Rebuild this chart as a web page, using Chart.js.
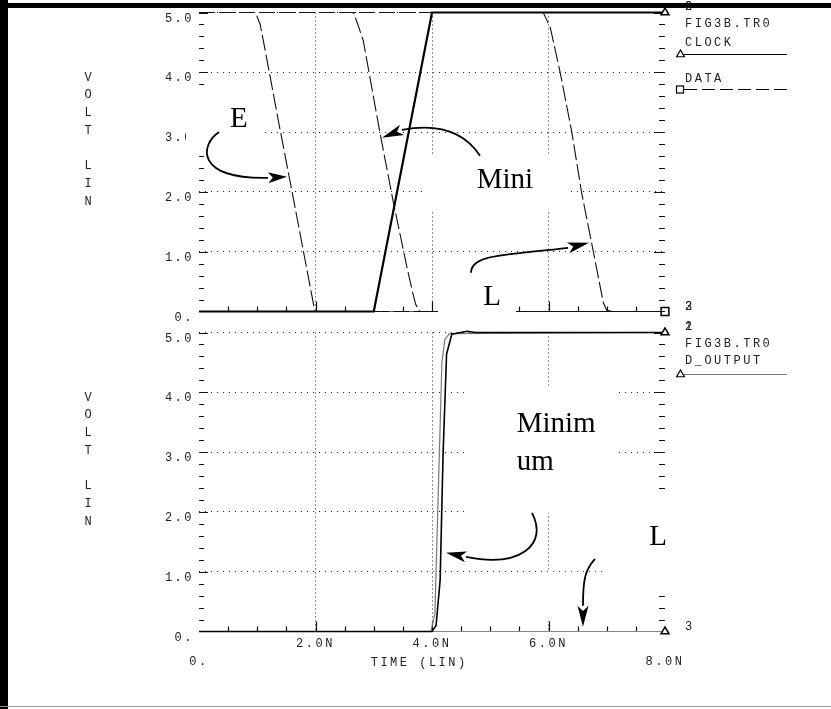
<!DOCTYPE html>
<html>
<head>
<meta charset="utf-8">
<script src="https://cdn.jsdelivr.net/npm/chart.js@4.4.0/dist/chart.umd.min.js"></script>
<style>
  html, body { margin: 0; padding: 0; background: #fff; }
  #page { position: relative; width: 831px; height: 709px; overflow: hidden; background: #fff; }
  canvas { position: absolute; left: 0; top: 0; }
  .bar-left { position: absolute; left: 0; top: 0; width: 8px; height: 709px; background: #000; }
  .bar-top { position: absolute; left: 0; top: 3px; width: 831px; height: 5px; background: #000; }
  .bar-bottom { position: absolute; left: 0; top: 706px; width: 831px; height: 1px; background: #999; }
</style>
</head>
<body>
<div id="page">
  <canvas id="topChart" width="831" height="709"></canvas>
  <canvas id="bottomChart" width="831" height="709"></canvas>
  <div class="bar-left"></div>
  <div class="bar-top"></div>
  <div class="bar-bottom"></div>
</div>
<script>
// ===== Data (time in ns, voltage in V) =====
const clockTime = [0, 3.0, 4.0, 8.0];
const clockVolt = [0, 0, 5, 5];

// DATA: early, minimum and late transitions
const dataEarlyTime = [0, 0.97, 1.05, 1.12, 1.39, 1.61, 1.99, 8.0];
const dataEarlyVolt = [5, 5, 4.8, 4.45, 3.05, 1.94, 0, 0];
const dataMinTime = [0, 2.65, 2.72, 2.82, 3.11, 3.33, 3.57, 3.66, 3.72, 3.79, 8.0];
const dataMinVolt = [5, 5, 4.82, 4.53, 2.97, 1.86, 0.74, 0.35, 0.12, 0, 0];
const dataLateTime = [0, 5.91, 6.03, 6.2, 6.4, 6.57, 6.77, 6.94, 7.0, 7.1, 8.0];
const dataLateVolt = [5, 5, 4.75, 4.0, 3.0, 1.98, 1.0, 0.15, 0.02, 0, 0];

// D_OUTPUT for the three runs
const outEarlyTime = [0, 4.0, 4.07, 4.14, 4.19, 4.25, 4.34, 4.6, 4.75, 8.0];
const outEarlyVolt = [0, 0, 0.1, 0.86, 2.97, 4.64, 4.97, 5.02, 5.0, 5.0];
const outMinTime = [0, 3.98, 4.05, 4.11, 4.17, 4.22, 4.3, 8.0];
const outMinVolt = [0, 0, 0.3, 2.4, 4.5, 4.88, 4.98, 5.0];
const outLateTime = [0, 8.0];
const outLateVolt = [0, 0];

// Tick labels
const voltTicks = [0, 1, 2, 3, 4, 5];
const voltLabels = ["0.", "1.0", "2.0", "3.0", "4.0", "5.0"];
const timeTicks = [0, 2, 4, 6, 8];
const timeLabels = [["", "0."], "2.0N", "4.0N", "6.0N", ["", "8.0N"]];

// ===== Annotations (in ns / V) =====
// boxes: [t1, t2, v1, v2] white patches behind the hand-written notes
const topBoxes = [
  [-0.223, 1.133, 2.704, 3.624],
  [3.914, 6.335, 1.701, 2.62],
  [4.103, 5.442, -0.139, 0.898],
];
const topNotes = [
  { text: "E", t: 0.532, v: 3.089 },
  { text: "Mini", t: 4.767, v: 2.064 },
  { text: "L", t: 4.881, v: 0.112 },
];
const topArrows = [
  { path: [[0.345, 3.0], [0.017, 2.79], [-0.069, 2.207], [1.185, 2.235]], tip: [1.511, 2.252] },
  { path: [[4.824, 2.604], [4.567, 2.988], [4.137, 3.155], [3.485, 3.038]], tip: [3.142, 2.905] },
  { path: [[4.67, 0.646], [4.67, 0.948], [5.167, 0.931], [6.335, 1.065]], tip: [6.695, 1.149] },
];
const bottomBoxes = [
  [4.601, 7.193, 1.985, 4.075],
  [6.936, 8.03, 0.647, 2.202],
  [5.94, 6.936, 0.177, 0.998],
];
const bottomNotes = [
  { text: "Minim", t: 5.454, v: 3.344 },
  { text: "um", t: 5.454, v: 2.704 },
  { text: "L", t: 7.73, v: 1.45 },
];
const bottomArrows = [
  { path: [[5.717, 1.985], [6.0, 1.45], [5.511, 1.065], [4.584, 1.249]], tip: [4.24, 1.316] },
  { path: [[6.798, 1.216], [6.627, 1.032], [6.592, 0.865], [6.592, 0.431]], tip: [6.592, 0.079] },
];

const MONO = '"Liberation Mono", "DejaVu Sans Mono", monospace';
const SERIF = '"Liberation Serif", "DejaVu Serif", serif';

// ===== Helpers =====
function series(time, volt) {
  return time.map((t, i) => ({ x: t, y: volt[i] }));
}

function trace(time, volt, style, marker) {
  return Object.assign(
    {
      data: series(time, volt),
      fill: false,
      tension: 0,
      clip: false,
      pointRadius: (c) => (marker && c.dataIndex === c.dataset.data.length - 1 ? marker.radius : 0),
      pointStyle: marker ? marker.style : "circle",
      pointBackgroundColor: "#fff",
      pointBorderColor: "#000",
      pointBorderWidth: 1.5,
    },
    style
  );
}

function plotterFont(ctx) {
  ctx.font = "12px " + MONO;
  ctx.letterSpacing = "2.5px";
  ctx.fillStyle = "#222";
  ctx.textBaseline = "middle";
  ctx.textAlign = "left";
}

function drawAxisLine(chart) {
  const { ctx, chartArea: a } = chart;
  ctx.save();
  ctx.strokeStyle = "#666";
  ctx.lineWidth = 1;
  ctx.setLineDash([]);
  ctx.beginPath();
  ctx.moveTo(a.left, a.bottom);
  ctx.lineTo(a.right, a.bottom);
  ctx.stroke();
  ctx.restore();
}

function drawTickMarks(chart) {
  const { ctx, chartArea: a, scales } = chart;
  ctx.save();
  ctx.strokeStyle = "#111";
  ctx.lineWidth = 1.2;
  ctx.setLineDash([]);
  ctx.beginPath();
  for (let i = 1; i < 16; i++) {
    const px = Math.round(scales.x.getPixelForValue(i * 0.5)) + 0.5;
    const len = i % 4 === 0 ? 10 : 5;
    ctx.moveTo(px, a.bottom);
    ctx.lineTo(px, a.bottom - len);
  }
  for (let i = 1; i <= 25; i++) {
    const py = Math.round(scales.y.getPixelForValue(i * 0.2)) + 0.5;
    const major = i % 5 === 0;
    ctx.moveTo(a.left, py);
    ctx.lineTo(a.left + (major ? 9 : 5), py);
    ctx.moveTo(a.right, py);
    ctx.lineTo(a.right - (major ? 11 : 6), py);
  }
  ctx.stroke();
  ctx.restore();
}

function drawNotes(chart, boxes, notes, arrows) {
  const { ctx, scales } = chart;
  const P = (t, v) => [scales.x.getPixelForValue(t), scales.y.getPixelForValue(v)];
  ctx.save();
  ctx.fillStyle = "#fff";
  boxes.forEach((b) => {
    const [x1, y1] = P(b[0], b[3]);
    const [x2, y2] = P(b[1], b[2]);
    ctx.fillRect(x1, y1, x2 - x1, y2 - y1);
  });

  ctx.letterSpacing = "0px";
  ctx.fillStyle = "#000";
  ctx.font = "29px " + SERIF;
  ctx.textAlign = "left";
  ctx.textBaseline = "alphabetic";
  notes.forEach((n) => {
    const [x, y] = P(n.t, n.v);
    ctx.fillText(n.text, x, y);
  });

  ctx.strokeStyle = "#000";
  ctx.lineWidth = 1.8;
  ctx.setLineDash([]);
  arrows.forEach((ar) => {
    const pts = ar.path.map((p) => P(p[0], p[1]));
    const tip = P(ar.tip[0], ar.tip[1]);
    ctx.beginPath();
    ctx.moveTo(pts[0][0], pts[0][1]);
    ctx.bezierCurveTo(pts[1][0], pts[1][1], pts[2][0], pts[2][1], pts[3][0], pts[3][1]);
    ctx.stroke();
    // arrow head
    const [bx, by] = pts[3];
    const dx = tip[0] - bx, dy = tip[1] - by;
    const len = Math.hypot(dx, dy);
    const nx = (-dy / len) * 5.5, ny = (dx / len) * 5.5;
    ctx.beginPath();
    ctx.moveTo(tip[0], tip[1]);
    ctx.lineTo(bx + nx, by + ny);
    ctx.lineTo(bx + dx * 0.25, by + dy * 0.25);
    ctx.lineTo(bx - nx, by - ny);
    ctx.closePath();
    ctx.fill();
  });
  ctx.restore();
}

function drawVoltTitle(chart) {
  const { ctx, chartArea: a } = chart;
  const letters = ["V", "O", "L", "T", "", "L", "I", "N"];
  ctx.save();
  plotterFont(ctx);
  ctx.letterSpacing = "0px";
  ctx.textAlign = "center";
  letters.forEach((ch, i) => ctx.fillText(ch, 88, a.top + 65 + i * 17.7));
  ctx.restore();
}

function drawTriangle(ctx, x, y, r) {
  ctx.beginPath();
  ctx.moveTo(x, y - r);
  ctx.lineTo(x + r * 0.87, y + r * 0.5);
  ctx.lineTo(x - r * 0.87, y + r * 0.5);
  ctx.closePath();
  ctx.fillStyle = "#fff";
  ctx.fill();
  ctx.stroke();
}

function legendLine(ctx, x1, x2, y, color, dash) {
  ctx.save();
  ctx.strokeStyle = color;
  ctx.lineWidth = 1.2;
  ctx.setLineDash(dash);
  ctx.beginPath();
  ctx.moveTo(x1, y);
  ctx.lineTo(x2, y);
  ctx.stroke();
  ctx.restore();
}

function drawTopLegend(chart) {
  const { ctx, chartArea: a } = chart;
  const lx = a.right + 20;
  ctx.save();
  plotterFont(ctx);
  ctx.fillText("FIG3B.TR0", lx, a.top + 11);
  ctx.fillText("CLOCK", lx, a.top + 30);
  ctx.fillText("DATA", lx, a.top + 66);
  legendLine(ctx, lx - 1, lx + 102, a.top + 42, "#000", []);
  ctx.strokeStyle = "#000";
  ctx.lineWidth = 1.2;
  drawTriangle(ctx, lx - 4.5, a.top + 42, 4.5);
  legendLine(ctx, lx - 1, lx + 102, a.top + 77, "#000", [13, 5]);
  ctx.fillStyle = "#fff";
  ctx.fillRect(lx - 8.5, a.top + 73.5, 7, 7);
  ctx.strokeRect(lx - 8.5, a.top + 73.5, 7, 7);
  // trace numbers
  plotterFont(ctx);
  ctx.letterSpacing = "0px";
  ["2", "3"].forEach((s) => ctx.fillText(s, a.right + 20, a.top - 6));
  ["2", "3"].forEach((s) => ctx.fillText(s, a.right + 20, a.bottom - 5));
  ctx.restore();
}

function drawBottomLegend(chart) {
  const { ctx, chartArea: a, scales } = chart;
  const lx = a.right + 20;
  ctx.save();
  plotterFont(ctx);
  ctx.fillText("FIG3B.TR0", lx, a.top + 11);
  ctx.fillText("D_OUTPUT", lx, a.top + 28);
  legendLine(ctx, lx - 1, lx + 102, a.top + 42, "#777", []);
  ctx.strokeStyle = "#000";
  ctx.lineWidth = 1.2;
  drawTriangle(ctx, lx - 4.5, a.top + 42, 4.5);
  plotterFont(ctx);
  ctx.letterSpacing = "0px";
  ["1", "2"].forEach((s) => ctx.fillText(s, a.right + 20, a.top - 6));
  ctx.fillText("3", a.right + 20, a.bottom - 5);
  // axis title
  plotterFont(ctx);
  ctx.textAlign = "center";
  ctx.fillText("TIME (LIN)", scales.x.getPixelForValue(3.78), a.bottom + 31);
  ctx.restore();
}

function chartOptions(padding, showX) {
  return {
    responsive: false,
    animation: false,
    events: [],
    layout: { padding: padding },
    plugins: { legend: { display: false }, tooltip: { enabled: false } },
    scales: {
      x: {
        type: "linear",
        min: 0,
        max: 8,
        afterFit: (s) => { s.height = showX ? 77.5 : 0; },
        grid: {
          drawTicks: false,
          lineWidth: 1,
          color: (c) => (c.tick && c.tick.value > 0 && c.tick.value < 8 ? "#222" : "rgba(0,0,0,0)"),
        },
        border: { display: false, dash: [1, 3] },
        ticks: {
          display: showX,
          stepSize: 2,
          autoSkip: false,
          maxRotation: 0,
          padding: 3,
          color: "#222",
          font: { family: MONO, size: 12, lineHeight: 1.5 },
          callback: (v) => timeLabels[timeTicks.indexOf(v)],
        },
      },
      y: {
        type: "linear",
        min: 0,
        max: 5,
        afterFit: (s) => { s.width = 199; },
        grid: {
          drawTicks: false,
          lineWidth: 1,
          color: (c) => (c.tick && c.tick.value > 0 ? "#222" : "rgba(0,0,0,0)"),
        },
        border: { display: false, dash: [1, 5] },
        ticks: {
          stepSize: 1,
          padding: 5,
          labelOffset: 6,
          color: "#222",
          font: { family: MONO, size: 12 },
          callback: (v) => voltLabels[voltTicks.indexOf(v)],
        },
      },
    },
  };
}

const spacingPlugin = {
  id: "spacing",
  beforeDraw(chart) { chart.ctx.letterSpacing = "2.5px"; },
};

// ===== Top chart: CLOCK and DATA =====
const dataStyle = { borderColor: "#111", borderWidth: 1.1, borderDash: [16, 4] };
new Chart(document.getElementById("topChart"), {
  type: "line",
  data: {
    datasets: [
      trace(clockTime, clockVolt, { label: "CLOCK", borderColor: "#000", borderWidth: 2.2 }, { style: "triangle", radius: 4.6 }),
      trace(dataEarlyTime, dataEarlyVolt, Object.assign({ label: "DATA" }, dataStyle)),
      trace(dataMinTime, dataMinVolt, Object.assign({ label: "DATA" }, dataStyle)),
      trace(dataLateTime, dataLateVolt, Object.assign({ label: "DATA" }, dataStyle), { style: "rect", radius: 5.5 }),
    ],
  },
  options: chartOptions({ left: 0, right: 166, top: 12.5, bottom: 397.5 }, false),
  plugins: [
    spacingPlugin,
    {
      id: "topDecor",
      beforeDatasetsDraw(chart) { drawAxisLine(chart); drawTickMarks(chart); },
      afterDatasetsDraw(chart) {
        drawNotes(chart, topBoxes, topNotes, topArrows);
        drawVoltTitle(chart);
        drawTopLegend(chart);
      },
    },
  ],
});

// ===== Bottom chart: D_OUTPUT =====
new Chart(document.getElementById("bottomChart"), {
  type: "line",
  data: {
    datasets: [
      trace(outEarlyTime, outEarlyVolt, { label: "D_OUTPUT", borderColor: "#000", borderWidth: 1.6 }, { style: "triangle", radius: 4.6 }),
      trace(outMinTime, outMinVolt, { label: "D_OUTPUT", borderColor: "#777", borderWidth: 1.2 }),
      trace(outLateTime, outLateVolt, { label: "D_OUTPUT", borderColor: "#888", borderWidth: 1 }, { style: "triangle", radius: 4.6 }),
    ],
  },
  options: chartOptions({ left: 0, right: 166, top: 332.5, bottom: 0 }, true),
  plugins: [
    spacingPlugin,
    {
      id: "bottomDecor",
      beforeDatasetsDraw(chart) { drawAxisLine(chart); drawTickMarks(chart); },
      afterDatasetsDraw(chart) {
        drawNotes(chart, bottomBoxes, bottomNotes, bottomArrows);
        drawVoltTitle(chart);
        drawBottomLegend(chart);
      },
    },
  ],
});
</script>
</body>
</html>
